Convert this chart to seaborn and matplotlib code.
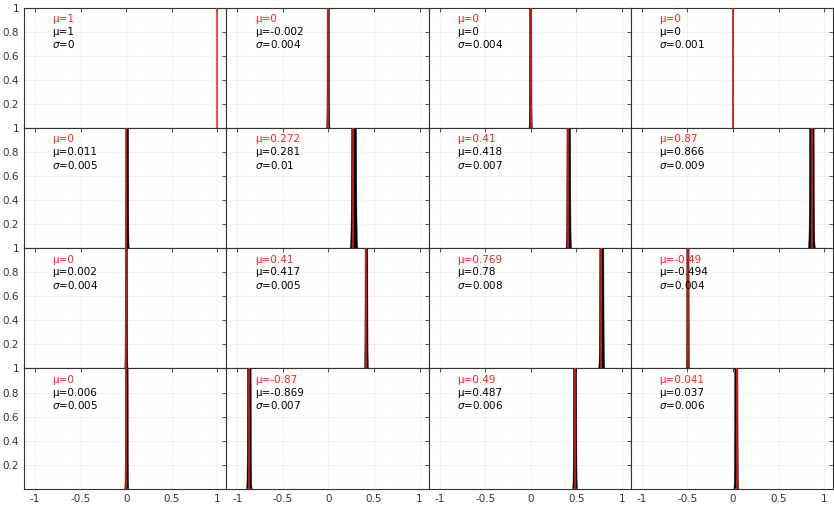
import numpy as np
import pandas as pd
import matplotlib
matplotlib.use("Agg")
import matplotlib.pyplot as plt
from matplotlib.ticker import MultipleLocator
import seaborn as sns

# true means (red), estimated means and std (black)
true_mu = [1, 0, 0, 0,
           0, 0.272, 0.41, 0.87,
           0, 0.41, 0.769, -0.49,
           0, -0.87, 0.49, 0.041]
est_mu = [1, -0.002, 0, 0,
          0.011, 0.281, 0.418, 0.866,
          0.002, 0.417, 0.78, -0.494,
          0.006, -0.869, 0.487, 0.037]
est_sigma = [0, 0.004, 0.004, 0.001,
             0.005, 0.01, 0.007, 0.009,
             0.004, 0.005, 0.008, 0.004,
             0.005, 0.007, 0.006, 0.006]
x_ticks = [-1, -0.5, 0, 0.5, 1]
y_ticks = [0.2, 0.4, 0.6, 0.8, 1]

sns.set_style("white")
plt.rcParams['font.family'] = ['DejaVu Sans']

fig, axes = plt.subplots(4, 4, figsize=(8.34, 5.15), dpi=100, sharex=True, sharey=True)
fig.subplots_adjust(left=0.029, right=0.999, top=0.985, bottom=0.051, wspace=0, hspace=0)

for i, ax in enumerate(axes.flat):
    tm, em, sd = true_mu[i], est_mu[i], est_sigma[i]
    ax.set_xlim(-1.12, 1.1)
    ax.set_ylim(0, 1)
    ax.xaxis.set_minor_locator(MultipleLocator(0.1))
    ax.yaxis.set_minor_locator(MultipleLocator(0.1))
    ax.grid(True, which='major', color='#ebebeb', lw=0.5, zorder=0)
    ax.grid(True, which='minor', color='#f2f2f2', lw=0.5, ls=':', zorder=0)
    if sd > 0:
        xs = np.linspace(em - 5 * sd, em + 5 * sd, 400)
        ys = np.exp(-0.5 * ((xs - em) / sd) ** 2) / (sd * np.sqrt(2 * np.pi))
        df = pd.DataFrame({'x': xs, 'y': ys})
        ax.fill_between(df['x'], 0, df['y'], color='black', lw=0, zorder=2)
        sns.lineplot(data=df, x='x', y='y', ax=ax, color='black', lw=0.3, zorder=3)
    ax.axvline(tm, color='#ff1a1a', lw=1.1, zorder=4)
    ax.set_xlabel('')
    ax.set_ylabel('')
    ax.text(-0.81, 0.905, f'μ={tm:g}', color='#ff2020', fontsize=7.5, va='center', ha='left', zorder=5)
    ax.text(-0.81, 0.8, f'μ={em:g}', color='black', fontsize=7.5, va='center', ha='left', zorder=5)
    ax.text(-0.81, 0.695, r'$\sigma$' + f'={sd:g}', color='black', fontsize=7.5, va='center', ha='left', zorder=5)
    ax.set_xticks(x_ticks)
    ax.set_xticklabels([f'{v:g}' for v in x_ticks])
    ax.set_yticks(y_ticks)
    ax.set_yticklabels([f'{v:g}' for v in y_ticks])
    ax.tick_params(which='major', direction='in', length=3, width=0.6, top=True, right=True,
                   labelsize=7.5, labelcolor='#333333', color='#333333')
    ax.tick_params(which='minor', length=0)
    for s in ax.spines.values():
        s.set_color('#333333')
        s.set_linewidth(0.8)

fig.savefig('out.png', dpi=100)
